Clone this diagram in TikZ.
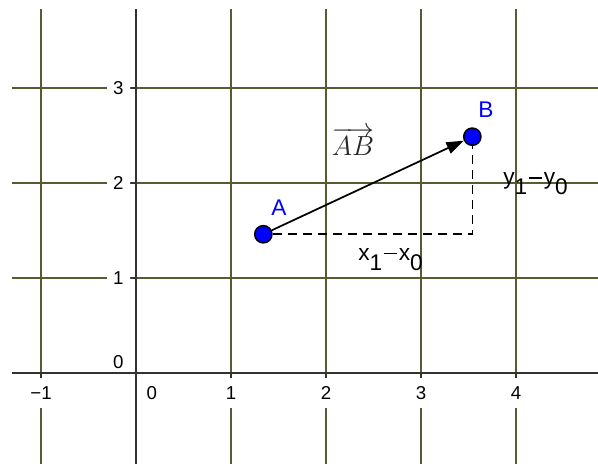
\documentclass[tikz,border=0pt]{standalone}
\usepackage{fontspec}
\setmainfont{Liberation Sans}
\usetikzlibrary{arrows.meta}
\definecolor{gridc}{HTML}{5A5A32}
\definecolor{axisc}{HTML}{333333}
\definecolor{ptblue}{HTML}{0000FF}
\newcommand{\subdn}[1]{\raisebox{-0.45em}{#1}}
\newcommand{\mns}{\kern1.2pt\rule[0.26em]{10pt}{1pt}\kern1.2pt}

\begin{document}
\begin{tikzpicture}[
      x=71.25pt, y=71.25pt,
      gridline/.style={gridc, line width=1.5pt},
      axis/.style={axisc, line width=1.2pt},
      xlab/.style={fill=white, inner xsep=2pt, inner ysep=6.5pt, font=\fontsize{14}{16}\selectfont},
      ylab/.style={fill=white, inner xsep=4.8pt, inner ysep=1pt, font=\fontsize{14}{16}\selectfont},
      pnt/.style={circle, draw=black, fill=ptblue, line width=1.1pt, minimum size=13pt, inner sep=0pt},
      pntlab/.style={text=ptblue, font=\fontsize{17}{19}\selectfont},
      difflab/.style={anchor=base west, inner sep=0pt, font=\fontsize{17}{19}\selectfont},
      vec/.style={-{Triangle[length=13pt, width=9pt]}, line width=1.3pt},
      aux/.style={dash pattern=on 6.75pt off 4.5pt, line width=1.2pt}
    ]
      \useasboundingbox (-1.432,-0.958) rectangle (4.863,3.926);
      % grid
      \draw[gridline] (-1,-0.958) -- (-1,3.832);
      \draw[gridline] (1,-0.958) -- (1,3.832);
      \draw[gridline] (2,-0.958) -- (2,3.832);
      \draw[gridline] (3,-0.958) -- (3,3.832);
      \draw[gridline] (4,-0.958) -- (4,3.832);
      \draw[gridline] (-1.305,1) -- (4.863,1);
      \draw[gridline] (-1.305,2) -- (4.863,2);
      \draw[gridline] (-1.305,3) -- (4.863,3);
      % axes and ticks
      \draw[axis] (-1.305,0) -- (4.863,0);
      \draw[axis] (0,-0.958) -- (0,3.832);
      \draw[axis] (-1,0) -- (-1,-0.055) (1,0) -- (1,-0.055) (2,0) -- (2,-0.055)
                  (3,0) -- (3,-0.055) (4,0) -- (4,-0.055);
      \draw[axis] (0,1) -- (-0.055,1) (0,2) -- (-0.055,2) (0,3) -- (-0.055,3);
      % axis numbers
      \node[ylab] (y1) at (-0.187,1) {1};
      \node[ylab] (y2) at (-0.187,2) {2};
      \node[ylab] (y3) at (-0.187,3) {3};
      \node[font=\fontsize{14}{16}\selectfont] (y0) at (-0.187,0.116) {0};
      \node[xlab] (xm1) at (-1,-0.21) {−1};
      \node[xlab] (x0) at (0.165,-0.21) {0};
      \node[xlab] (x1) at (1,-0.21) {1};
      \node[xlab] (x2) at (2,-0.21) {2};
      \node[xlab] (x3) at (3,-0.21) {3};
      \node[xlab] (x4) at (4,-0.21) {4};
      % the two points
      \node[pnt] (a) at (1.34,1.46) {};
      \node[pnt] (b) at (3.54,2.487) {};
      \node[pntlab] (alab) at (1.505,1.737) {A};
      \node[pntlab] (blab) at (3.684,2.768) {B};
      \draw[aux] (a) -- (a -| b) -- (b);
      \draw[vec] (a) -- (b);
      \node[text=black!85, font=\fontsize{22}{24}\selectfont] (ablab) at (2.284,2.437) {$\overrightarrow{AB}$};
      \node[difflab] (dx) at (2.337,1.185) {x\subdn{1}\mns x\subdn{0}};
      \node[difflab] (dy) at (3.863,1.984) {y\subdn{1}\mns y\subdn{0}};
    \end{tikzpicture}
\end{document}
